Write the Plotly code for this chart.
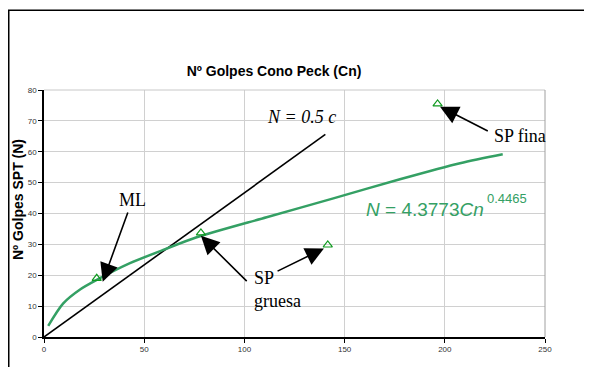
import plotly.graph_objects as go

# Data
obs_cn = [26.3, 78.3, 141.6, 196.4]
obs_n = [19.0, 33.7, 29.8, 75.5]

fit_cn = [2.1, 9.6, 18.0, 26.3, 42.9, 59.5, 76.2, 111.1, 144.4, 177.6, 207.6, 228.9]
fit_n = [3.6, 10.9, 15.4, 18.5, 23.9, 28.2, 32.3, 38.8, 44.9, 51.1, 56.3, 59.2]

ref_cn = [0, 140.4]
ref_n = [0, 65.6]

x_ticks = [0, 50, 100, 150, 200, 250]
y_ticks = [0, 10, 20, 30, 40, 50, 60, 70, 80]

GREEN_LINE = "#34a064"
GREEN_MARK = "#109a20"

# The page body adds an 8px offset; the figure is sized/placed to compensate.
W, H = 584, 359
L, T, R, B = 36, 82, 47, 30

fig = go.Figure()
fig.add_trace(go.Scatter(x=ref_cn, y=ref_n, mode="lines",
                         line=dict(color="black", width=1.6), showlegend=False))
fig.add_trace(go.Scatter(x=fit_cn, y=fit_n, mode="lines",
                         line=dict(color=GREEN_LINE, width=2.5, shape="spline", smoothing=0.8),
                         showlegend=False))
fig.add_trace(go.Scatter(x=obs_cn, y=obs_n, mode="markers",
                         marker=dict(symbol="triangle-up-open", size=8, color=GREEN_MARK,
                                     line=dict(width=1.2, color=GREEN_MARK)),
                         showlegend=False))

serif = "Liberation Serif, Times New Roman, serif"
sans = "Liberation Sans, Arial, sans-serif"

def arrow(tx, ty, hx, hy):
    fig.add_annotation(x=hx, y=hy, ax=tx, ay=ty, xref="x", yref="y", axref="x", ayref="y",
                       text="", showarrow=True, arrowhead=2, arrowsize=2.3, arrowwidth=1.6,
                       arrowcolor="black")

arrow(42.1, 40.8, 29.3, 17.9)
arrow(101.9, 17.6, 78.3, 32.8)
arrow(115.8, 21.1, 139.7, 28.7)
arrow(222.2, 66.5, 197.6, 74.6)

def label(x, y, text, font, size, color="black", xanchor="center"):
    fig.add_annotation(x=x, y=y, xref="x", yref="y", text=text, showarrow=False,
                       xanchor=xanchor, yanchor="middle",
                       font=dict(family=font, size=size, color=color), align="left")

label(128.7, 71.3, "<i>N = 0.5 c</i>", serif, 18)
label(44.4, 44.4, "ML", serif, 18)
label(103.8, 15.4, "SP<br>gruesa", serif, 18, xanchor="left")
label(237.5, 65.1, "SP fina", serif, 18)
label(159.7, 41.3, "<i>N</i> = 4.3773<i>Cn</i>", sans, 19, GREEN_LINE, xanchor="left")
label(220.1, 45.0, "0.4465", sans, 13, GREEN_LINE, xanchor="left")

# y axis title
fig.add_annotation(xref="paper", yref="paper", x=-26 / 501, y=(337 - 200) / 247,
                   text="<b>Nº Golpes SPT (N)</b>", textangle=-90, showarrow=False,
                   xanchor="center", yanchor="middle",
                   font=dict(family=sans, size=14, color="black"))

# outer frame
fig.add_shape(type="rect", xref="paper", yref="paper", x0=(0.75 - L) / 501, y0=-0.3,
              x1=1.2, y1=(H - B - 2.25) / 247,
              line=dict(color="black", width=1.5), layer="above")
# top and right plot borders (gray)
fig.add_shape(type="line", xref="paper", yref="paper", x0=0, x1=1, y0=1, y1=1,
              line=dict(color="#c8c8c8", width=1))
fig.add_shape(type="line", xref="paper", yref="paper", x0=1, x1=1, y0=0, y1=1,
              line=dict(color="#a0a0a0", width=1))

fig.update_layout(
    width=W, height=H,
    margin=dict(l=L, r=R, t=T, b=B, autoexpand=False),
    paper_bgcolor="white", plot_bgcolor="white",
    title=dict(text="<b>Nº Golpes Cono Peck (Cn)</b>", x=266 / W, xanchor="center",
               y=1 - 63 / H, yanchor="middle",
               font=dict(family=sans, size=14, color="black")),
    xaxis=dict(range=[0, 250], tickvals=x_ticks, ticktext=[str(v) for v in x_ticks],
               showgrid=True, gridcolor="#d0d0d0", gridwidth=1, automargin=False,
               showline=True, linecolor="black", linewidth=1.5,
               ticks="outside", ticklen=4, tickcolor="black",
               tickfont=dict(family=sans, size=8, color="#333"), zeroline=False),
    yaxis=dict(range=[0, 80], tickvals=y_ticks, ticktext=[str(v) for v in y_ticks],
               showgrid=True, gridcolor="#d0d0d0", gridwidth=1, automargin=False,
               showline=True, linecolor="black", linewidth=1.5,
               ticks="outside", ticklen=4, tickcolor="black",
               tickfont=dict(family=sans, size=8, color="#333"), zeroline=False),
)

fig.write_html("out.html")
